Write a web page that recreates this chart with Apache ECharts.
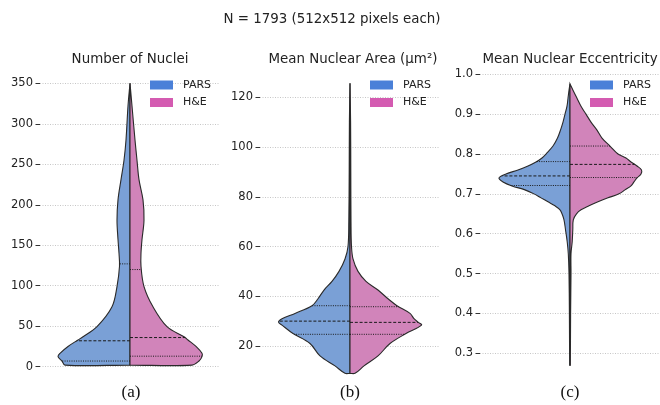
<!DOCTYPE html>
<html>
<head>
<meta charset="utf-8">
<script src="https://cdn.jsdelivr.net/npm/echarts@6/dist/echarts.min.js"></script>
<style>
  html, body { margin: 0; padding: 0; background: #fff; }
  #chart { width: 660px; height: 405px; }
</style>
</head>
<body>
<div id="chart"></div>
<script>
// density profiles (relative half width, max 72)
const nucleiLevels = [2, 7, 12.4, 16.5, 25, 33, 37, 49.5, 74, 99, 124, 140, 157, 181, 206, 231, 255, 280, 322, 350];
const nucleiPars   = [65, 68, 72, 70, 62, 52, 47, 33, 18, 13, 10.5, 11, 12, 13, 12, 9, 6, 4, 2, 0];
const nucleiHe     = [62, 69, 72, 72, 66, 58, 54, 37, 23, 14, 11, 11, 12, 14, 13, 9, 7, 5, 2, 0];

const areaLevels = [9, 12, 16, 21, 25, 28.4, 29.6, 31, 33.1, 36.2, 39, 42.5, 46, 50, 55, 60, 70, 90, 110, 125.6];
const areaPars   = [5, 15, 30, 40, 57, 68, 71.5, 68, 55, 38, 32, 26, 18, 11, 5, 2, 1.2, 0.8, 0.6, 0];
const areaHe     = [5, 14, 28, 40, 56, 71.5, 68, 64, 60, 47, 38, 28, 16, 8, 3, 1.5, 1, 0.8, 0.6, 0];

const eccLevels = [0.27, 0.40, 0.50, 0.55, 0.58, 0.61, 0.635, 0.65, 0.66, 0.67, 0.68, 0.69, 0.70, 0.71, 0.72, 0.73, 0.74, 0.75, 0.76, 0.77, 0.78, 0.79, 0.80, 0.82, 0.84, 0.86, 0.88, 0.90, 0.92, 0.94, 0.96, 0.976];
const eccPars   = [0.3, 0.6, 1, 1.7, 2.8, 4.5, 6, 8, 10, 15, 22, 29, 36, 45, 58, 67, 71, 64, 52, 42, 34, 28, 24, 17, 12.5, 9.5, 7, 5, 3, 2, 1, 0];
const eccHe     = [0.3, 0.6, 1, 1, 2.2, 2.8, 3.3, 6.5, 11, 19, 28, 38, 49, 55, 61, 64, 67, 71, 71.5, 67, 61, 56, 48, 40, 32, 27, 21, 16, 11, 7, 3, 0];

// quartiles [Q1, median, Q3]
const nucleiQuartPars = [7, 32, 127];
const nucleiQuartHe   = [13, 36, 120];
const areaQuartPars = [24.7, 30, 36.2];
const areaQuartHe   = [24.7, 29.5, 35.8];
const eccQuartPars = [0.721, 0.745, 0.781];
const eccQuartHe   = [0.741, 0.774, 0.820];

const panelTitles = ['Number of Nuclei', 'Mean Nuclear Area (µm²)', 'Mean Nuclear Eccentricity'];
const panelTags = ['(a)', '(b)', '(c)'];

const PARS_FILL = '#7aa0d6';
const HE_FILL = '#d184ba';
const PARS_LEGEND = '#4a80d8';
const HE_LEGEND = '#d45bb1';
const SCALE = 0.4 / 72;
const FONT = '"DejaVu Sans", sans-serif';

function widthAt(levels, widths, v) {
  for (let i = 1; i < levels.length; i++) {
    if (v <= levels[i]) {
      const t = (v - levels[i - 1]) / (levels[i] - levels[i - 1]);
      return widths[i - 1] + t * (widths[i] - widths[i - 1]);
    }
  }
  return 0;
}

function halfSeries(name, idx, levels, widths, side, fill) {
  return {
    name: name,
    type: 'custom',
    xAxisIndex: idx,
    yAxisIndex: idx,
    itemStyle: { color: fill },
    data: [0],
    renderItem: function (params, api) {
      const n = levels.length;
      const bottom = api.coord([0, levels[0]]);
      const top = api.coord([0, levels[n - 1]]);
      // doubled centre points keep the middle edge straight when smoothed
      const pts = [bottom, bottom.slice()];
      for (let i = 0; i < n; i++) {
        pts.push(api.coord([side * widths[i] * SCALE, levels[i]]));
      }
      pts.push(top, top.slice());
      return {
        type: 'polygon',
        shape: { points: pts, smooth: 0.35 },
        style: { fill: fill, stroke: '#2a2a2a', lineWidth: 1.1 }
      };
    },
    z: 2
  };
}

function quartSeries(idx, levels, parsW, heW, qPars, qHe) {
  return {
    type: 'custom',
    xAxisIndex: idx,
    yAxisIndex: idx,
    data: [0],
    silent: true,
    renderItem: function (params, api) {
      const children = [];
      [[qPars, parsW, -1], [qHe, heW, 1]].forEach(function (s) {
        s[0].forEach(function (q, k) {
          const w = widthAt(levels, s[1], q) * SCALE;
          const a = api.coord([0, q]);
          const b = api.coord([s[2] * w, q]);
          children.push({
            type: 'line',
            shape: { x1: a[0], y1: a[1], x2: b[0], y2: b[1] },
            style: { stroke: '#1a1a1a', lineWidth: 1, lineDash: k === 1 ? [3, 1.8] : [1, 1.3] }
          });
        });
      });
      return { type: 'group', children: children };
    },
    z: 3
  };
}

const gridLefts = [40, 260, 480];
const grids = [
  { left: 40, top: 83.3, width: 180, height: 283.4 },
  { left: 260, top: 97.3, width: 180, height: 248.7 },
  { left: 480, top: 74.3, width: 180, height: 279 }
];
const yRanges = [[0, 350, 50], [20, 120, 20], [0.3, 1.0, 0.1]];

const chart = echarts.init(document.getElementById('chart'));

const option = {
  animation: false,
  grid: grids,
  xAxis: grids.map(function (g, i) {
    return { type: 'value', gridIndex: i, min: -0.5, max: 0.5, show: false };
  }),
  yAxis: yRanges.map(function (r, i) {
    return {
      type: 'value', gridIndex: i, min: r[0], max: r[1], interval: r[2],
      axisLine: { show: false, onZero: false },
      axisTick: { show: true, length: 4.5, lineStyle: { color: '#333', width: 1 } },
      axisLabel: {
        margin: 7, color: '#222', fontSize: 11.5, fontFamily: FONT,
        formatter: i === 2 ? function (v) { return v.toFixed(1); } : '{value}'
      },
      splitLine: { show: true, lineStyle: { color: '#b8b8b8', type: [1, 1.5], width: 0.8 } }
    };
  }),
  legend: gridLefts.map(function (x) {
    return {
      left: x + 110, top: 79, orient: 'vertical', icon: 'rect',
      itemWidth: 23, itemHeight: 9, itemGap: 5.5, padding: 0,
      textStyle: { fontSize: 11, fontFamily: FONT, color: '#222', lineHeight: 12, padding: [0, 0, 0, 5] },
      data: [
        { name: 'PARS', itemStyle: { color: PARS_LEGEND } },
        { name: 'H&E', itemStyle: { color: HE_LEGEND } }
      ]
    };
  }),
  graphic: [
    { type: 'text', x: 332, y: 20, style: { text: 'N = 1793 (512x512 pixels each)', font: '13.4px ' + FONT, fill: '#222', textAlign: 'center', textVerticalAlign: 'middle' } }
  ].concat(panelTitles.map(function (t, i) {
    return { type: 'text', x: [130, 353, 570][i], y: 60, style: { text: t, font: '13.4px ' + FONT, fill: '#222', textAlign: 'center', textVerticalAlign: 'middle' } };
  })).concat(panelTags.map(function (t, i) {
    return { type: 'text', x: [131, 350, 570][i], y: 393, style: { text: t, font: '17px "Liberation Serif", serif', fill: '#111', textAlign: 'center', textVerticalAlign: 'middle' } };
  })),
  series: [
    halfSeries('PARS', 0, nucleiLevels, nucleiPars, -1, PARS_FILL),
    halfSeries('H&E', 0, nucleiLevels, nucleiHe, 1, HE_FILL),
    quartSeries(0, nucleiLevels, nucleiPars, nucleiHe, nucleiQuartPars, nucleiQuartHe),
    halfSeries('PARS', 1, areaLevels, areaPars, -1, PARS_FILL),
    halfSeries('H&E', 1, areaLevels, areaHe, 1, HE_FILL),
    quartSeries(1, areaLevels, areaPars, areaHe, areaQuartPars, areaQuartHe),
    halfSeries('PARS', 2, eccLevels, eccPars, -1, PARS_FILL),
    halfSeries('H&E', 2, eccLevels, eccHe, 1, HE_FILL),
    quartSeries(2, eccLevels, eccPars, eccHe, eccQuartPars, eccQuartHe)
  ]
};

chart.setOption(option);
</script>
</body>
</html>
